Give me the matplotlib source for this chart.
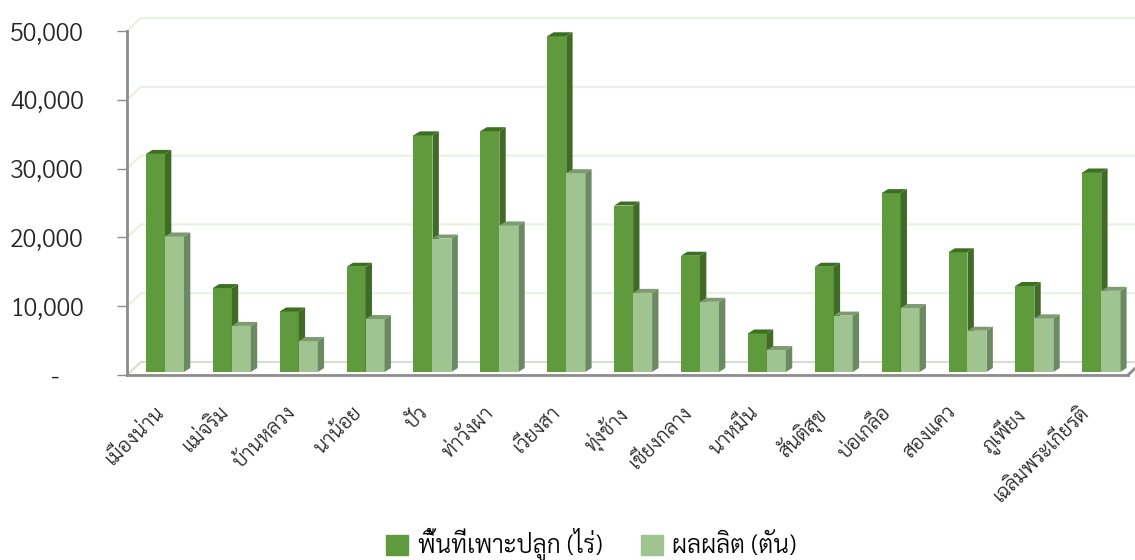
import matplotlib
matplotlib.use('Agg')
import matplotlib.pyplot as plt
from matplotlib.patches import Patch
from matplotlib.transforms import ScaledTranslation

plt.rcParams['font.family'] = ['Sarabun', 'Noto Sans Thai', 'Noto Sans', 'DejaVu Sans']
plt.rcParams['font.weight'] = 300

districts = ['เมืองน่าน', 'แม่จริม', 'บ้านหลวง', 'นาน้อย', 'ปัว', 'ท่าวังผา', 'เวียงสา', 'ทุ่งช้าง',
             'เชียงกลาง', 'นาหมื่น', 'สันติสุข', 'บ่อเกลือ', 'สองแคว', 'ภูเพียง', 'เฉลิมพระเกียรติ']
area = [31700, 12200, 8800, 15300, 34400, 35000, 48800, 24200, 16900, 5600, 15300, 26000, 17400, 12500, 29000]
output = [19700, 6700, 4500, 7700, 19400, 21300, 28900, 11500, 10200, 3200, 8200, 9300, 6000, 7800, 11800]
yticks = [0, 10000, 20000, 30000, 40000, 50000]

fig = plt.figure(figsize=(11.35, 5.6), dpi=100)
ax = fig.add_axes([127 / 1135, 185 / 560, 1001 / 1135, 344 / 560])
ax.set_xlim(-0.568, 14.40)
ax.set_ylim(0, 50000)

bar_w = 0.284
floor = 436
wall_dx, wall_dy = 0.209, 1890
bar_dx, bar_dy = 0.095, 580
right = 15

# back wall grid
for v in yticks:
    c = '#e6f2de' if v > 0 else '#d5dfcf'
    ax.plot([-0.568, -0.568 + wall_dx, right], [v, v + wall_dy, v + wall_dy], color=c, lw=1.5,
            clip_on=False, zorder=1)
ax.plot([14.40, 14.40 + wall_dx], [0, wall_dy], color='#8c8c8c', lw=2, clip_on=False, zorder=2)


def draw_bars(xs, vals, front, top, side):
    ax.bar(xs, vals, bar_w, bottom=floor, align='edge', color=front, zorder=3)
    for x, v in zip(xs, vals):
        y = v + floor
        ax.fill([x + bar_w, x + bar_w + bar_dx, x + bar_w + bar_dx, x + bar_w],
                [floor, floor + bar_dy, y + bar_dy, y], color=side, lw=0, zorder=3)
        ax.fill([x, x + bar_dx, x + bar_w + bar_dx, x + bar_w],
                [y, y + bar_dy, y + bar_dy, y], color=top, lw=0, zorder=3)


pos = list(range(len(districts)))
draw_bars([p - bar_w for p in pos], area, '#5f9a3c', '#3b6f22', '#3f6b25')
draw_bars(pos, output, '#9fc48f', '#7c9c70', '#6c8a62')

for s in ['top', 'right']:
    ax.spines[s].set_visible(False)
for s in ['left', 'bottom']:
    ax.spines[s].set_color('#8c8c8c')
    ax.spines[s].set_linewidth(2)
    ax.spines[s].set_zorder(4)

ax.set_yticks(yticks, ['-    ' if v == 0 else f'{v:,}' for v in yticks])
ax.tick_params(axis='y', length=7.2, width=1, color='#8c8c8c', pad=24, labelsize=18, labelcolor='#262626')
ax.set_xticks(pos, districts, rotation=45, ha='right', rotation_mode='anchor')
ax.tick_params(axis='x', length=0, pad=20, labelsize=14.5, labelcolor='#262626')
# labels drift a bit left of their groups in the original
for i, lab in enumerate(ax.get_xticklabels()):
    shift = ScaledTranslation((-11 - 0.8 * i) / 100, 0, fig.dpi_scale_trans)
    lab.set_transform(lab.get_transform() + shift)

handles = [Patch(color='#5f9a3c'), Patch(color='#9fc48f')]
fig.legend(handles, ['พื้นที่เพาะปลูก (ไร่)', 'ผลผลิต (ตัน)'], ncol=2, frameon=False, loc='lower center',
           bbox_to_anchor=(0.521, -0.042), fontsize=17.7, handlelength=0.9, handleheight=0.9,
           handletextpad=0.4, columnspacing=1.55)

fig.savefig('out.png', dpi=100)
